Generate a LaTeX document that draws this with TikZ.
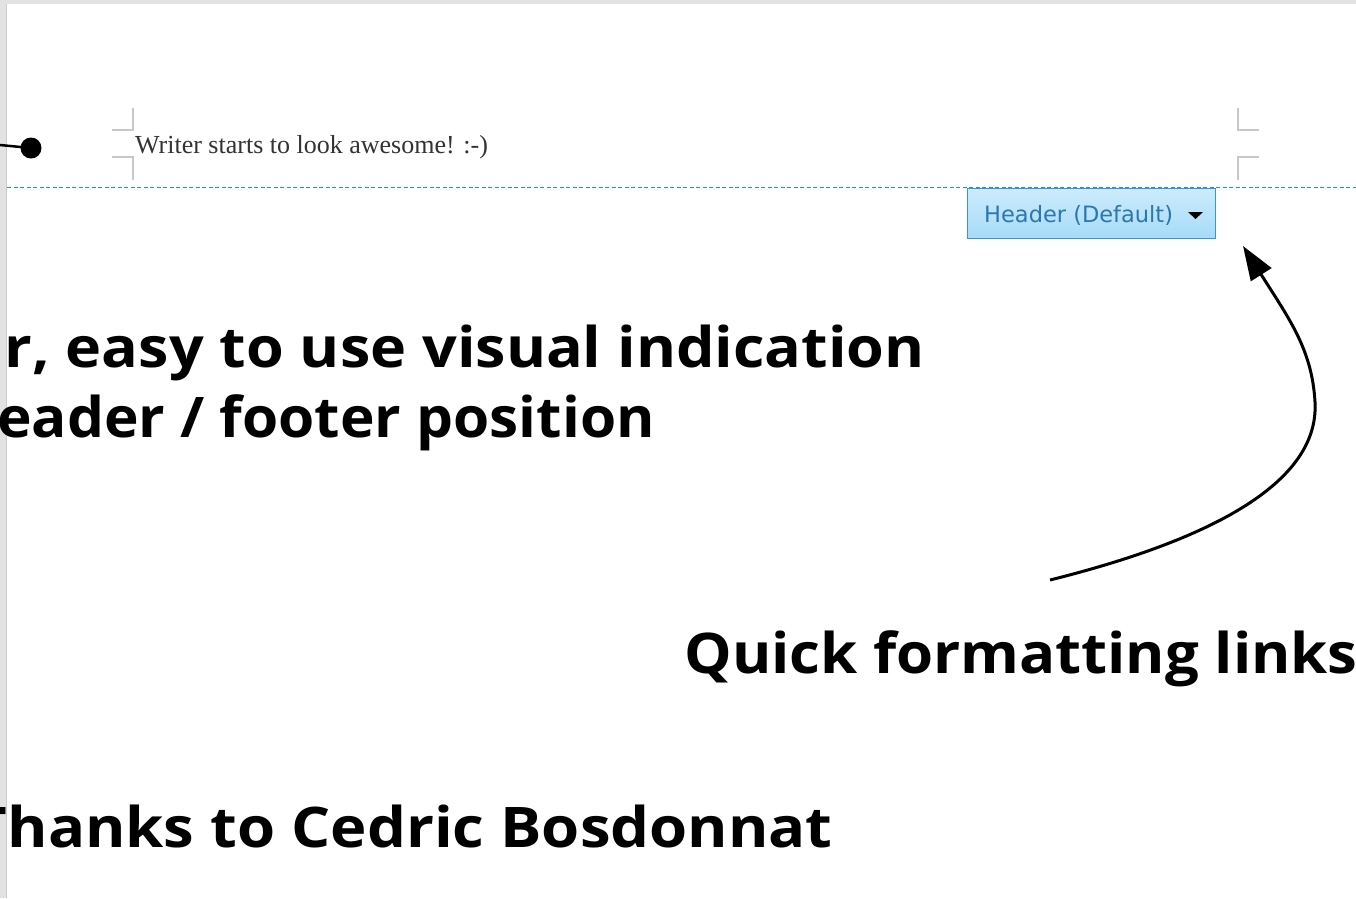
\documentclass[tikz,border=0pt]{standalone}
\usepackage{fontspec}
\setmainfont{Open Sans}
\newfontfamily\bigf{Open Sans}
\newfontfamily\serf{Liberation Serif}
\newfontfamily\uif{DejaVu Sans}
\usetikzlibrary{arrows.meta}
\definecolor{cropgray}{HTML}{C8C8C8}
\definecolor{dashblue}{HTML}{1F8FE0}
\definecolor{btntop}{HTML}{CDEBFC}
\definecolor{btnbot}{HTML}{A6DBF8}
\definecolor{btnborder}{HTML}{3A96D2}
\definecolor{btntext}{HTML}{2A78AE}
\definecolor{framegray}{HTML}{E2E2E2}
\definecolor{framedark}{HTML}{CCCCCC}
\tikzset{
  bigtext/.style={inner sep=0pt, font=\bigf\bfseries\fontsize{56}{70}\selectfont},
  cropmark/.style={draw=cropgray, line width=1.2pt},
}
\begin{document}
\begin{tikzpicture}[x=1pt,y=-1pt]
\useasboundingbox (0,0) rectangle (1356,898);
\clip (0,0) rectangle (1356,898);
\fill[white] (0,0) rectangle (1356,898);
% frame
\fill[framegray] (0,0) rectangle (1356,4);
\fill[framegray] (0,0) rectangle (6,898);
\draw[framedark, line width=1pt] (6.5,4) -- (6.5,898);
% crop marks left
\draw[cropmark] (112,130) -- (133,130) -- (133,108);
\draw[cropmark] (112,157) -- (133,157) -- (133,180);
% crop marks right
\draw[cropmark] (1238,108) -- (1238,130) -- (1259,130);
\draw[cropmark] (1238,180) -- (1238,157) -- (1259,157);
% dashed header line
\draw[dashblue, line width=1.8pt, dash pattern=on 4pt off 2.5pt] (7,187.5) -- (1356,187.5);
% header text
\node[anchor=base west, inner sep=0pt, text=black!80, font=\serf\fontsize{26}{30}\selectfont] (hdrtext) at (135,153) {Writer starts to look awesome! :-)};
% dot and line
\coordinate (leftend) at (0,145);
\node[circle, fill=black, minimum size=21pt, inner sep=0pt] (dot) at (31,148) {};
\draw[line width=2.5pt] (leftend) -- (dot.center);
% button
\shade[top color=btntop, bottom color=btnbot] (967.5,188.5) rectangle (1215.5,238.5);
\draw[btnborder, line width=1.5pt] (967.5,188.5) rectangle (1215.5,238.5);
\node[anchor=base west, inner sep=0pt, text=btntext, font=\uif\fontsize{22.5}{26}\selectfont] (btn) at (984,222) {Header (Default)};
\fill[black] (1188,212) -- (1203,212) -- (1195.5,219) -- cycle;
% big texts
\node[bigtext, xscale=1.09, anchor=base east] (l1) at (925,367) {r, easy to use visual indication};
\node[bigtext, xscale=1.045, anchor=base east] (l2) at (655,437) {eader / footer position};
\node[bigtext, xscale=1.07, anchor=base east] (quick) at (1358,673) {Quick formatting links};
\node[bigtext, xscale=1.1, anchor=base east] (thanks) at (833,847) {Thanks to Cedric Bosdonnat};
% arrow
\coordinate (astart) at (1050,580);
\coordinate (amid) at (1315,402);
\coordinate (atip) at (1243,246);
\draw[line width=3pt, -{Triangle[length=34pt,width=24pt]}] (astart) .. controls (1190,545) and (1320,490) .. (amid) .. controls (1312,350) and (1290,320) .. (atip);
\end{tikzpicture}
\end{document}
